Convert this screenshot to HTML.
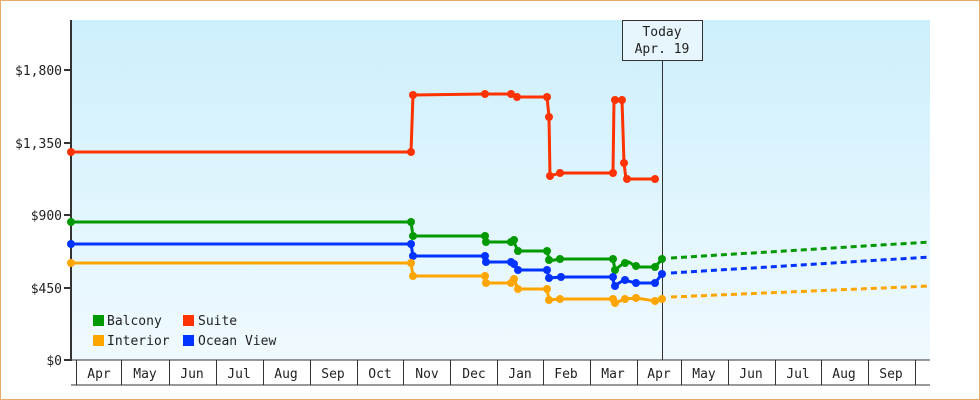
<!DOCTYPE html>
<html><head><style>
body{margin:0;background:#fff}
svg{display:block;font-family:"DejaVu Sans Mono","Liberation Mono",monospace}
</style></head><body>
<svg width="980" height="400" viewBox="0 0 980 400" xmlns="http://www.w3.org/2000/svg">
<defs><linearGradient id="g" x1="0" y1="0" x2="0" y2="1"><stop offset="0" stop-color="#cdeffc"/><stop offset="1" stop-color="#f0fafe"/></linearGradient></defs>
<rect x="0.5" y="0.5" width="979" height="399" fill="#fff" stroke="#e8aa6a"/>
<rect x="71" y="20" width="859" height="340" fill="url(#g)"/>
<g stroke="#333" stroke-width="1">
<line x1="71" y1="20" x2="71" y2="361" stroke-width="2"/>
<line x1="64" y1="70" x2="71" y2="70" stroke-width="2"/>
<line x1="64" y1="143" x2="71" y2="143" stroke-width="2"/>
<line x1="64" y1="215" x2="71" y2="215" stroke-width="2"/>
<line x1="64" y1="288" x2="71" y2="288" stroke-width="2"/>
<line x1="64" y1="360" x2="71" y2="360" stroke-width="2"/>
<line x1="71" y1="360" x2="930" y2="360"/>
<line x1="71" y1="385" x2="930" y2="385"/>
<g>
<line x1="76.5" y1="360" x2="76.5" y2="385"/><line x1="121.5" y1="360" x2="121.5" y2="385"/><line x1="169.5" y1="360" x2="169.5" y2="385"/><line x1="216.5" y1="360" x2="216.5" y2="385"/><line x1="263.5" y1="360" x2="263.5" y2="385"/><line x1="310.5" y1="360" x2="310.5" y2="385"/><line x1="357.5" y1="360" x2="357.5" y2="385"/><line x1="403.5" y1="360" x2="403.5" y2="385"/><line x1="450.5" y1="360" x2="450.5" y2="385"/><line x1="497.5" y1="360" x2="497.5" y2="385"/><line x1="543.5" y1="360" x2="543.5" y2="385"/><line x1="590.5" y1="360" x2="590.5" y2="385"/><line x1="637.5" y1="360" x2="637.5" y2="385"/><line x1="681.5" y1="360" x2="681.5" y2="385"/><line x1="728.5" y1="360" x2="728.5" y2="385"/><line x1="775.5" y1="360" x2="775.5" y2="385"/><line x1="821.5" y1="360" x2="821.5" y2="385"/><line x1="868.5" y1="360" x2="868.5" y2="385"/><line x1="915.5" y1="360" x2="915.5" y2="385"/>
</g>
</g>
<g font-size="13" fill="#222" text-anchor="end">
<text x="62" y="75">$1,800</text><text x="62" y="148">$1,350</text><text x="62" y="220">$900</text><text x="62" y="293">$450</text><text x="62" y="365">$0</text>
</g>
<g font-size="13" fill="#222" text-anchor="middle">
<text x="99" y="378">Apr</text><text x="145" y="378">May</text><text x="192" y="378">Jun</text><text x="239" y="378">Jul</text><text x="286" y="378">Aug</text><text x="333" y="378">Sep</text><text x="380" y="378">Oct</text><text x="427" y="378">Nov</text><text x="474" y="378">Dec</text><text x="520" y="378">Jan</text><text x="566" y="378">Feb</text><text x="613" y="378">Mar</text><text x="659" y="378">Apr</text><text x="704" y="378">May</text><text x="751" y="378">Jun</text><text x="798" y="378">Jul</text><text x="844" y="378">Aug</text><text x="891" y="378">Sep</text>
</g>
<line x1="662.5" y1="60" x2="662.5" y2="360" stroke="#333"/>
<rect x="622.5" y="20.5" width="80" height="40" fill="#e6f6fc" stroke="#333"/>
<text x="662" y="36" font-size="13" text-anchor="middle" fill="#222">Today</text>
<text x="662" y="53" font-size="13" text-anchor="middle" fill="#222">Apr. 19</text>
<g fill="none" stroke-width="3" stroke-linejoin="round">
<polyline stroke="#ff3300" points="71,152 411,152 413,95 485,94 511,94 517,97 547,97 549,117 550,176 560,173 613,173 614,100 622,100 624,163 626,179 655,179"/>
<polyline stroke="#009900" points="71,222 411,222 413,236 485,236 486,242 511,242 513,240 518,251 547,251 549,259 549,261 560,259 613,259 615,270 625,262 629,262 636,267 655,267 662,259"/>
<polyline stroke="#0033ff" points="71,244 411,244 413,256 485,256 486,262 511,262 513,263 518,270 547,270 549,278 561,277 613,277 614,286 624,280 636,283 655,283 662,274"/>
<polyline stroke="#ffa500" points="71,263 411,263 413,276 485,276 486,283 511,283 514,279 518,289 547,289 549,300 560,299 613,299 615,303 625,299 636,298 655,301 662,299"/>
<g stroke-dasharray="6,4">
<line x1="671" y1="258" x2="930" y2="242" stroke="#009900"/>
<line x1="671" y1="273" x2="930" y2="257" stroke="#0033ff"/>
<line x1="671" y1="297" x2="930" y2="286" stroke="#ffa500"/>
</g>
</g>
<g fill="#ff3300"><circle cx="71" cy="152" r="4"/><circle cx="411" cy="152" r="4"/><circle cx="413" cy="95" r="4"/><circle cx="485" cy="94" r="4"/><circle cx="511" cy="94" r="4"/><circle cx="517" cy="97" r="4"/><circle cx="547" cy="97" r="4"/><circle cx="549" cy="117" r="4"/><circle cx="550" cy="176" r="4"/><circle cx="560" cy="173" r="4"/><circle cx="613" cy="173" r="4"/><circle cx="615" cy="100" r="4"/><circle cx="622" cy="100" r="4"/><circle cx="624" cy="163" r="4"/><circle cx="627" cy="179" r="4"/><circle cx="655" cy="179" r="4"/></g>
<g fill="#009900"><circle cx="71" cy="222" r="4"/><circle cx="411" cy="222" r="4"/><circle cx="413" cy="236" r="4"/><circle cx="485" cy="236" r="4"/><circle cx="486" cy="242" r="4"/><circle cx="511" cy="242" r="4"/><circle cx="514" cy="240" r="4"/><circle cx="518" cy="251" r="4"/><circle cx="547" cy="251" r="4"/><circle cx="549" cy="260" r="4"/><circle cx="560" cy="259" r="4"/><circle cx="613" cy="259" r="4"/><circle cx="615" cy="270" r="4"/><circle cx="625" cy="263" r="4"/><circle cx="636" cy="266" r="4"/><circle cx="655" cy="267" r="4"/><circle cx="662" cy="259" r="4"/></g>
<g fill="#0033ff"><circle cx="71" cy="244" r="4"/><circle cx="411" cy="244" r="4"/><circle cx="413" cy="256" r="4"/><circle cx="485" cy="256" r="4"/><circle cx="486" cy="262" r="4"/><circle cx="511" cy="262" r="4"/><circle cx="514" cy="264" r="4"/><circle cx="518" cy="270" r="4"/><circle cx="547" cy="270" r="4"/><circle cx="549" cy="278" r="4"/><circle cx="561" cy="277" r="4"/><circle cx="613" cy="277" r="4"/><circle cx="615" cy="286" r="4"/><circle cx="625" cy="280" r="4"/><circle cx="636" cy="283" r="4"/><circle cx="655" cy="283" r="4"/><circle cx="662" cy="274" r="4"/></g>
<g fill="#ffa500"><circle cx="71" cy="263" r="4"/><circle cx="411" cy="263" r="4"/><circle cx="413" cy="276" r="4"/><circle cx="485" cy="276" r="4"/><circle cx="486" cy="283" r="4"/><circle cx="511" cy="283" r="4"/><circle cx="514" cy="279" r="4"/><circle cx="518" cy="289" r="4"/><circle cx="547" cy="289" r="4"/><circle cx="549" cy="300" r="4"/><circle cx="560" cy="299" r="4"/><circle cx="613" cy="299" r="4"/><circle cx="615" cy="303" r="4"/><circle cx="625" cy="299" r="4"/><circle cx="636" cy="298" r="4"/><circle cx="655" cy="301" r="4"/><circle cx="662" cy="299" r="4"/></g>
<g font-size="13" fill="#222">
<rect x="93" y="315" width="11" height="11" fill="#009900"/><text x="107" y="325">Balcony</text>
<rect x="183" y="315" width="11" height="11" fill="#ff3300"/><text x="198" y="325">Suite</text>
<rect x="93" y="335" width="11" height="11" fill="#ffa500"/><text x="107" y="345">Interior</text>
<rect x="183" y="335" width="11" height="11" fill="#0033ff"/><text x="198" y="345">Ocean View</text>
</g>
</svg>
</body></html>
